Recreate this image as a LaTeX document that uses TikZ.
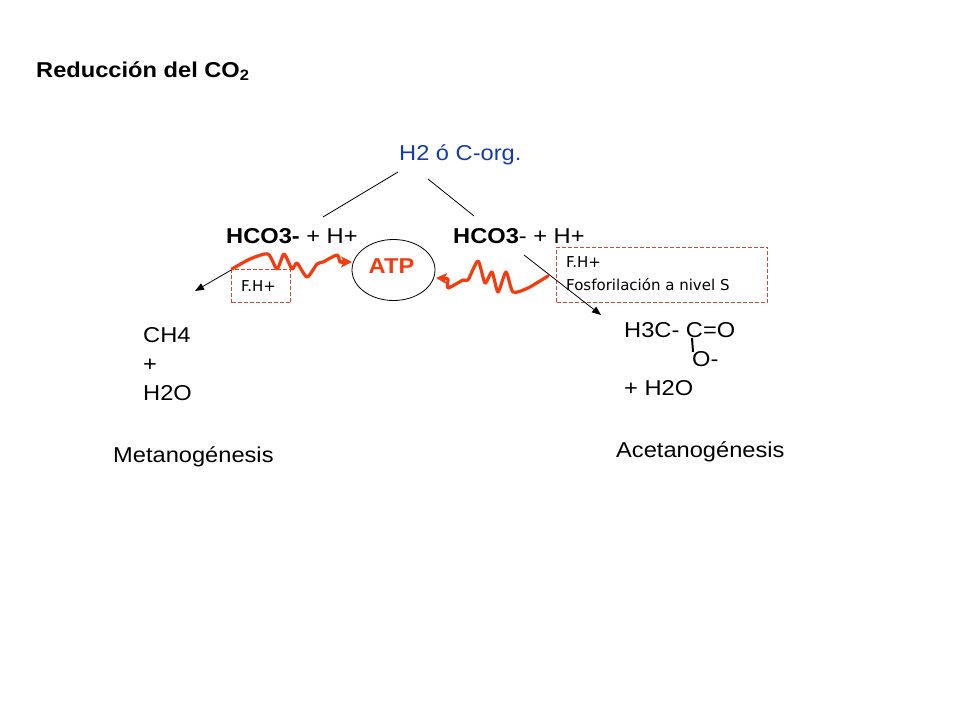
\documentclass[tikz,border=0pt]{standalone}
\usepackage{fontspec}
\setmainfont[FakeStretch=1.1]{Liberation Sans}
\newfontfamily\handfont{DejaVu Sans}
\usetikzlibrary{arrows.meta,shapes.geometric}
\tikzset{
  x=1pt,y=-1pt,
  txt/.style={inner sep=0pt,anchor=base west,font=\fontsize{21.5}{24}\selectfont,text=black},
  small/.style={inner sep=0pt,anchor=base west,font=\handfont\fontsize{15}{20}\selectfont,text=black},
  thin line/.style={draw=black,line width=0.8pt},
  arrowline/.style={draw=black,line width=0.8pt,-{Triangle[length=9pt,width=7pt]}},
  wave/.style={draw=wavered,line width=3.2pt,line cap=round,line join=round},
  dashbox/.style={draw=boxred,line width=0.8pt,dash pattern=on 4pt off 2pt}
}
\definecolor{wavered}{RGB}{245,60,15}
\definecolor{boxred}{RGB}{205,75,50}
\definecolor{blueText}{RGB}{20,60,170}
\begin{document}
\begin{tikzpicture}
\useasboundingbox (0,0) rectangle (960,720);
\fill[white] (0,0) rectangle (960,720);
\node[txt,font=\bfseries\fontsize{21.5}{24}\selectfont] (title) at (36,77) {Reducción del CO\textsubscript{2}};
\node[txt,text=blueText] (src) at (399,160) {H2 ó C-org.};
\node[txt] (hl) at (226,243) {\textbf{HCO3-} + H+};
\node[txt] (hr) at (453,243) {\textbf{HCO3}- + H+};
\node[draw=black,line width=0.8pt,ellipse,minimum width=83pt,minimum height=61pt,inner sep=0pt] (atp) at (393.5,270) {};
\node[inner sep=0pt,font=\bfseries\fontsize{21.5}{24}\selectfont,text=wavered] (atpt) at (391.5,266) {ATP};
\node[dashbox,minimum width=59pt,minimum height=33pt,inner sep=0pt] (fhl) at (261,286) {};
\node[small] (fhlt) at (241,291) {F.H+};
\node[dashbox,minimum width=211pt,minimum height=55pt,inner sep=0pt] (fhr) at (662,274.5) {};
\node[small] (fhr1) at (566,267) {F.H+};
\node[small] (fhr2) at (566,290) {Fosforilación a nivel S};
\node[txt] (ch4) at (143,342) {CH4};
\node[txt] (plus) at (143,371) {+};
\node[txt] (h2o) at (143,400) {H2O};
\node[txt] (met) at (113,462) {Metanogénesis};
\node[txt] (ac1) at (624,337) {H3C- C=O};
\node[txt] (ac2) at (692,366) {O-};
\node[txt] (ac3) at (624,395) {+ H2O};
\node[txt] (ace) at (616,457) {Acetanogénesis};
\coordinate (a1) at (398,172); \coordinate (a2) at (323,217);
\coordinate (b1) at (428,179); \coordinate (b2) at (474,216);
\coordinate (c1) at (257,255); \coordinate (c2) at (195,291);
\coordinate (d1) at (524,255); \coordinate (d2) at (601,315);
\coordinate (e1) at (692,338); \coordinate (e2) at (693,352);
\draw[thin line] (a1) -- (a2);
\draw[thin line] (b1) -- (b2);
\draw[arrowline] (c1) -- (c2);
\draw[arrowline] (d1) -- (d2);
\draw[draw=black,line width=2pt] (e1) -- (e2);
\draw[wave] plot[smooth,tension=0.4] coordinates {(232,269) (250,259) (268,254) (277,269) (284,254) (292,269) (297,263) (307,277) (317,264) (323,262) (337,255) (340,262) (344,262)};
\draw[wave,-{Stealth[length=11pt,width=11pt,inset=3pt]}] (342,262) -- (352,262);
\draw[wave] plot[smooth,tension=0.4] coordinates {(548,276) (528,288) (513,292) (506,272) (498,292) (492,272) (485,283) (478,261) (468,280) (463,280) (448,288) (448,279) (444,278.5)};
\draw[wave,-{Stealth[length=11pt,width=11pt,inset=3pt]}] (446,278.5) -- (436,278);
\end{tikzpicture}
\end{document}
